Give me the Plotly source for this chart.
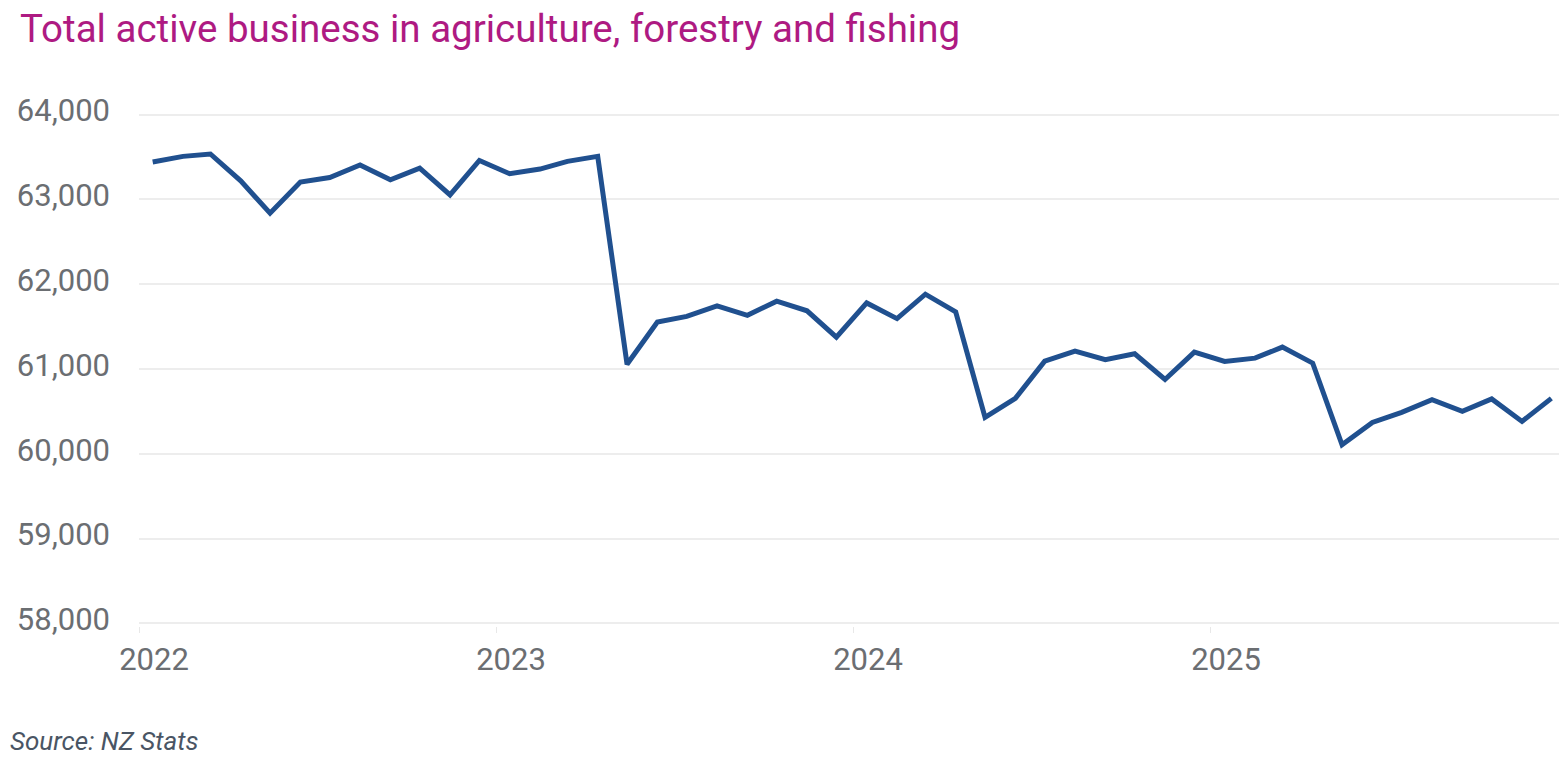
import plotly.graph_objects as go
import pandas as pd

# monthly counts, Jan 2022 - Dec 2025, plotted mid-month
months = pd.date_range("2022-01-01", periods=48, freq="MS") + pd.Timedelta(days=14)
active_business = [
    63440, 63507, 63535, 63219, 62837, 63204, 63258, 63405, 63231, 63369, 63053, 63459,
    63302, 63357, 63448, 63507, 61055, 61554, 61621, 61743, 61633, 61799, 61686, 61376,
    61779, 61594, 61882, 61673, 60430, 60654, 61092, 61211, 61109, 61180, 60876, 61199,
    61089, 61128, 61258, 61069, 60107, 60370, 60489, 60639, 60501, 60647, 60382, 60654,
]
year_ticks = ["2022-01-01", "2023-01-01", "2024-01-01", "2025-01-01"]
year_labels = ["2022", "2023", "2024", "2025"]
y_ticks = [58000, 59000, 60000, 61000, 62000, 63000, 64000]

# the page body adds an 8px margin, so the figure is made that much smaller
W, H, OFF = 1559, 750, 8

fig = go.Figure(go.Scatter(
    x=months,
    y=active_business,
    mode="lines",
    line=dict(color="#20508f", width=5),
    hoverinfo="x+y",
))

fig.update_layout(
    width=W,
    height=H,
    margin=dict(l=139 - OFF, r=0, t=112 - OFF, b=H - (626 - OFF)),
    paper_bgcolor="white",
    plot_bgcolor="white",
    showlegend=False,
    font=dict(family="Roboto", color="#6b6e72"),
    title=dict(
        text="Total active business in agriculture, forestry and fishing",
        font=dict(family="Roboto", size=38.5, color="#ae1a82"),
        xref="container", yref="container",
        x=(20 - OFF) / W, xanchor="left",
        y=1 - 7 / H, yanchor="top",
    ),
    annotations=[dict(
        text="<i>Source: NZ Stats</i>",
        xref="paper", yref="paper",
        x=-(139 - OFF) / (W - 139 + OFF), xanchor="left",
        y=(626 - 741) / 514, yanchor="middle",
        showarrow=False,
        font=dict(family="Roboto", size=26, color="#4a5564"),
    )],
)

fig.update_xaxes(
    type="date",
    range=["2022-01-01", "2025-12-31"],
    tickvals=year_ticks,
    ticktext=year_labels,
    ticks="outside",
    ticklen=6,
    tickwidth=1,
    tickcolor="#e8e8e8",
    ticklabelshift=15,
    showgrid=False,
    showline=False,
    zeroline=False,
    tickfont=dict(size=31, color="#6b6e72"),
)

fig.update_yaxes(
    range=[57970, 64030],
    tickvals=y_ticks,
    tickformat=",",
    showgrid=True,
    gridcolor="#ededed",
    gridwidth=1.5,
    zeroline=False,
    showline=False,
    ticklabelstandoff=28,
    ticklabelshift=-4,
    tickfont=dict(size=31, color="#6b6e72"),
)

fig.write_html("out.html")
